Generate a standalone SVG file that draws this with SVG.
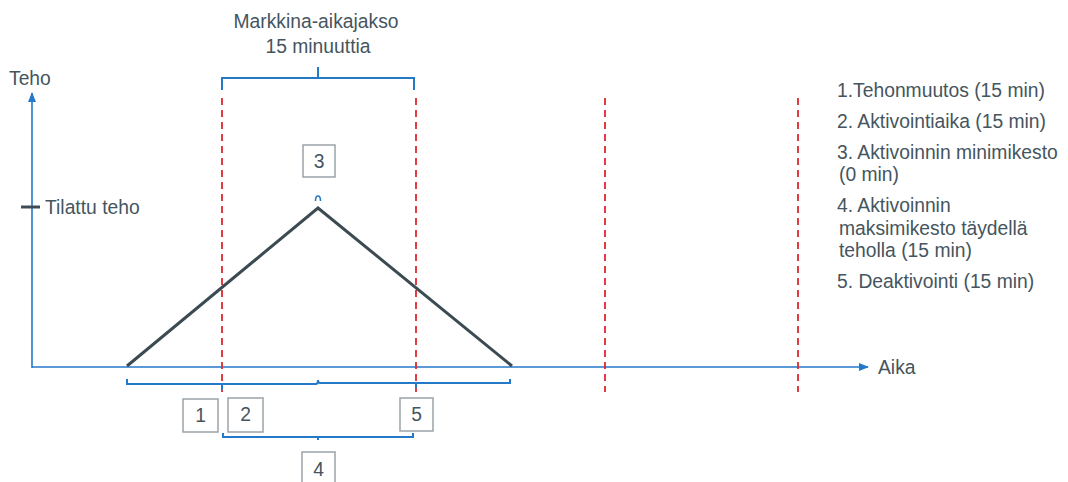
<svg xmlns="http://www.w3.org/2000/svg" width="1068" height="482" viewBox="0 0 1068 482">
<style>
.t{font-family:"Liberation Sans",Arial,sans-serif;font-size:19.3px;fill:#45555e}
.ax{stroke:#2479c9;stroke-width:1.6;fill:none}
.br{stroke:#2479c9;stroke-width:2;fill:none}
.dash{stroke:#e3262f;stroke-width:1.8;stroke-dasharray:7 5;fill:none}
.box{fill:#fff;stroke:#9aa3a8;stroke-width:1.5}
.num{font-family:"Liberation Sans",Arial,sans-serif;font-size:19.3px;fill:#45555e;text-anchor:middle}
</style>
<defs>
<marker id="arr" markerWidth="10" markerHeight="8" refX="9" refY="4" orient="auto" markerUnits="userSpaceOnUse">
<path d="M0,0 L10,4 L0,8 Z" fill="#2479c9"/>
</marker>
</defs>
<g id="axes">
<line class="ax" x1="32" y1="368" x2="32" y2="93" marker-end="url(#arr)"/>
<line class="ax" x1="32" y1="367" x2="868" y2="367" marker-end="url(#arr)"/>
<line x1="21" y1="207" x2="40" y2="207" stroke="#3e4d55" stroke-width="3"/>
<text class="t" x="9" y="85">Teho</text>
<text class="t" x="45" y="214">Tilattu teho</text>
<text class="t" x="878" y="374">Aika</text>
</g>
<g id="dashed-lines">
<line class="dash" x1="222" y1="98" x2="222" y2="392"/>
<line class="dash" x1="416" y1="98" x2="416" y2="392"/>
<line class="dash" x1="605" y1="98" x2="605" y2="392"/>
<line class="dash" x1="798" y1="98" x2="798" y2="392"/>
</g>
<g id="profile">
<polyline points="127,366 318,208 512,366" fill="none" stroke="#3c4a52" stroke-width="3" stroke-linejoin="miter"/>
<path d="M315.5,201 Q315.5,196 318,196 Q320.5,196 320.5,201" fill="none" stroke="#2479c9" stroke-width="1.6"/>
</g>
<g id="market-period">
<path class="br" d="M222,90 V78 H414 V90 M318,78 V67"/>
<text class="t" x="316" y="28" text-anchor="middle">Markkina-aikajakso</text>
<text class="t" x="318" y="53" text-anchor="middle">15 minuuttia</text>
</g>
<g id="brackets">
<path class="br" d="M127,379 V384 H222 V390 M222,384 H316 Q318,384 318,380 Q318,383 320,383 H416 V388 M416,383 H510 V379"/>
<path class="br" d="M223,433 V437 H413 V433 M318,437 V440"/>
</g>
<g id="box1"><rect class="box" x="183" y="399" width="35" height="33"/><text class="num" x="200.5" y="422">1</text></g>
<g id="box2"><rect class="box" x="228" y="398" width="35" height="34"/><text class="num" x="245.5" y="421">2</text></g>
<g id="box3"><rect class="box" x="303" y="145" width="32" height="32"/><text class="num" x="319" y="168">3</text></g>
<g id="box4"><rect class="box" x="302" y="452" width="33" height="34"/><text class="num" x="318.5" y="476">4</text></g>
<g id="box5"><rect class="box" x="400" y="398" width="33" height="33"/><text class="num" x="416.5" y="421">5</text></g>
<g id="legend">
<text class="t" x="837" y="97">1.Tehonmuutos (15 min)</text>
<text class="t" x="837" y="128">2. Aktivointiaika (15 min)</text>
<text class="t" x="837" y="159">3. Aktivoinnin minimikesto</text>
<text class="t" x="839" y="181">(0 min)</text>
<text class="t" x="837" y="212">4. Aktivoinnin</text>
<text class="t" x="839" y="235">maksimikesto täydellä</text>
<text class="t" x="839" y="257">teholla (15 min)</text>
<text class="t" x="837" y="288">5. Deaktivointi (15 min)</text>
</g>
</svg>
